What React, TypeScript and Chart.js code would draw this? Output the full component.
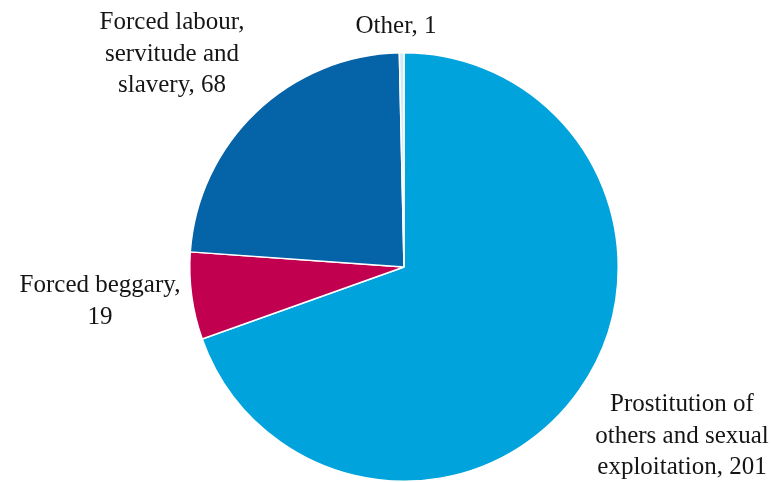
import React, { useEffect, useRef } from "react";
import { Chart, registerables } from "chart.js";

Chart.register(...registerables);

const categories = [
  "Prostitution of others and sexual exploitation",
  "Forced beggary",
  "Forced labour, servitude and slavery",
  "Other",
];
const values = [201, 19, 68, 1];
const colors = ["#00A3DC", "#C1004F", "#0563A8", "#CFEAF6"];
const labelLines = [
  ["Prostitution of", "others and sexual", "exploitation, 201"],
  ["Forced beggary,", "19"],
  ["Forced labour,", "servitude and", "slavery, 68"],
  ["Other, 1"],
];
// label anchor (center x, first baseline y) in canvas pixels
const labelAnchors = [
  [682, 411],
  [100, 292],
  [172, 29],
  [396, 33],
];

const labelPlugin = {
  id: "outerLabels",
  afterDraw(chart: any) {
    const ctx = chart.ctx;
    ctx.save();
    ctx.font = '25px "Liberation Serif", "Times New Roman", serif';
    ctx.fillStyle = "#151515";
    ctx.textAlign = "center";
    ctx.textBaseline = "alphabetic";
    labelLines.forEach((lines, i) => {
      const [x, y] = labelAnchors[i];
      lines.forEach((ln, j) => ctx.fillText(ln, x, y + j * 31.5));
    });
    ctx.restore();
  },
};

export default function App() {
  const ref = useRef<HTMLCanvasElement>(null);
  useEffect(() => {
    if (!ref.current) return;
    const chart = new Chart(ref.current, {
      type: "pie",
      data: {
        labels: categories,
        datasets: [
          {
            data: values,
            backgroundColor: colors,
            borderColor: "#ffffff",
            borderWidth: 1.5,
          },
        ],
      },
      options: {
        responsive: false,
        animation: false,
        layout: { padding: { left: 189, right: 153, top: 52, bottom: 0 } },
        plugins: { legend: { display: false }, tooltip: { enabled: false } },
      },
      plugins: [labelPlugin],
    });
    return () => chart.destroy();
  }, []);
  return (
    <div style={{ position: "fixed", left: 0, top: 0, width: 772, height: 482, background: "#fff" }}>
      <canvas ref={ref} width={772} height={482} />
    </div>
  );
}
